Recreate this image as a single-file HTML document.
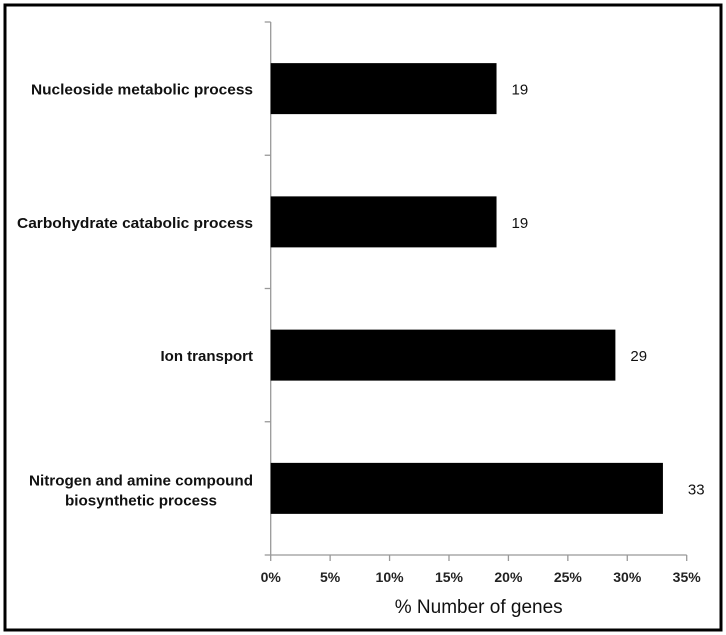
<!DOCTYPE html>
<html><head><meta charset="utf-8"><style>
body{margin:0;background:#fff}
svg{display:block;font-family:"Liberation Sans",Arial,sans-serif}
</style></head><body>
<svg width="726" height="635" viewBox="0 0 726 635">
<rect x="5" y="5" width="716" height="625" fill="#fff" stroke="#000" stroke-width="3"/>
<g id="plot"></g>
</svg>
<script>
const categories=[["Nucleoside metabolic process"],["Carbohydrate catabolic process"],["Ion transport"],["Nitrogen and amine compound","biosynthetic process"]];
const values=[19,19,29,33];
const ticks=[0,5,10,15,20,25,30,35];
const tickLabels=["0%","5%","10%","15%","20%","25%","30%","35%"];
const NS="http://www.w3.org/2000/svg";
const g=document.getElementById('plot');
const x0=270.7,x1=686.7,y0=22,y1=555,xmax=35;
const xs=v=>x0+(v/xmax)*(x1-x0);
const band=(y1-y0)/categories.length;
function el(t,a,p){const e=document.createElementNS(NS,t);for(const k in a)e.setAttribute(k,a[k]);(p||g).appendChild(e);return e;}
const ax=el('line',{x1:x0,y1:y0,x2:x0,y2:y1,stroke:'#999','stroke-width':1.3});


const bx=el('line',{x1:x0,y1:y1,x2:x1,y2:y1,stroke:'#999','stroke-width':1.3});


for(let i=0;i<=categories.length;i++){
  const y=y0+i*band;
  const t=el('line',{x1:x0-6,y1:y,x2:x0,y2:y,stroke:'#999','stroke-width':1.3});
  
  
}
ticks.forEach((v,i)=>{
  const x=xs(v);
  const t=el('line',{x1:x,y1:y1,x2:x,y2:y1+6,stroke:'#999','stroke-width':1.3});
  
  
  const l=el('text',{x:x,y:y1+27,'text-anchor':'middle','font-size':14,'font-weight':'bold',fill:'#222'});
  l.textContent=tickLabels[i];
  
  
});
categories.forEach((c,i)=>{
  const cy=y0+(i+0.5)*band;
  const bh=51;
  const b=el('rect',{x:x0,y:cy-bh/2,width:xs(values[i])-x0,height:bh,fill:'#000'});
  
  
  const v=el('text',{x:xs(values[i])+(values[i]>30?25:15),y:cy+6,'font-size':15,fill:'#111','text-anchor':'start'});
  v.textContent=values[i];
  
  
  const lw=[222,236,0,224];
  if(c.length===1){
    const t=el('text',{x:253,y:cy+6,'font-size':15,'font-weight':'bold',fill:'#111','text-anchor':'end'});
    t.textContent=c[0];
    if(lw[i]){t.setAttribute('textLength',lw[i]);t.setAttribute('lengthAdjust','spacingAndGlyphs');}
    
    
  }else{
    const cx=253-112;
    c.forEach((line,j)=>{
      const t=el('text',{x:cx,y:cy-3+j*20,'font-size':15,'font-weight':'bold',fill:'#111','text-anchor':'middle'});
      t.textContent=line;
      t.setAttribute('textLength',j?152:224);
      t.setAttribute('lengthAdjust','spacingAndGlyphs');
      
      
    });
  }
});
const tt=el('text',{x:(x0+x1)/2,y:613,'text-anchor':'middle','font-size':19,fill:'#111'});
tt.textContent="% Number of genes";


</script>
</body></html>
